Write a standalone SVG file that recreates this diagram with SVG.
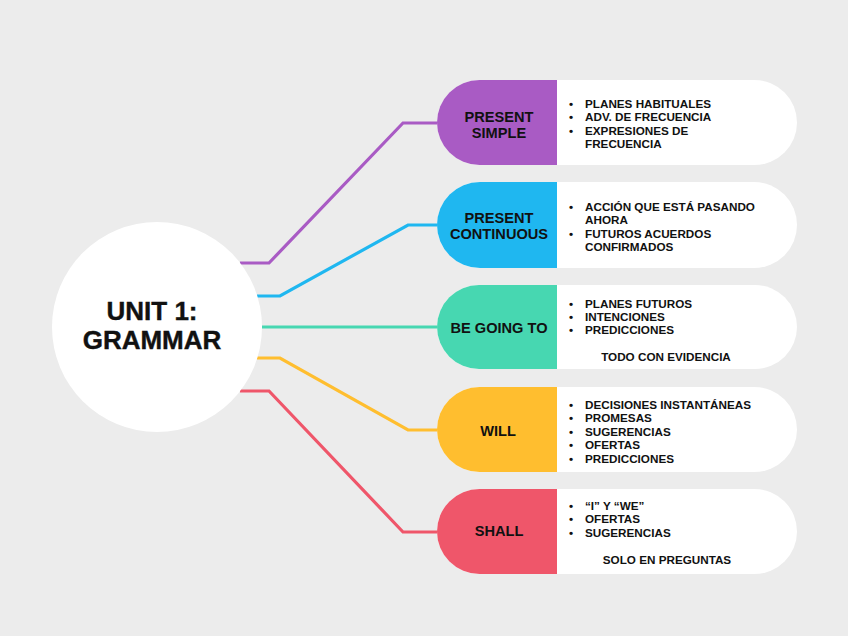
<svg xmlns="http://www.w3.org/2000/svg" width="848" height="636" viewBox="0 0 848 636">
<style>
.conn{fill:none;stroke-width:3.2;stroke-linejoin:miter}
.lbl{font-family:"Liberation Sans",Arial,sans-serif;font-weight:bold;font-size:14.6px;fill:#111;text-anchor:middle}
.txt{font-family:"Liberation Sans",Arial,sans-serif;font-weight:bold;font-size:11.7px;fill:#111}
.ctr{text-anchor:middle}
.pill{fill:#fff}
.title{font-family:"Liberation Sans",Arial,sans-serif;font-weight:bold;font-size:26px;fill:#111;text-anchor:middle;stroke:#111;stroke-width:0.4}
</style>
<rect width="848" height="636" fill="#ececec"/>
<g id="connectors">
<polyline class="conn" stroke="#a95bc4" points="240,263 269,263 403,123 440,123"/>
<polyline class="conn" stroke="#1fb7f0" points="257,296 280,296 408,225 440,225"/>
<polyline class="conn" stroke="#47d7b1" points="262,327 440,327"/>
<polyline class="conn" stroke="#ffbe2f" points="257,358 280,358 408,430 440,430"/>
<polyline class="conn" stroke="#ef566a" points="240,391 269,391 403,532 440,532"/>
</g>
<g id="center">
<circle cx="157" cy="327" r="105" fill="#fff"/>
<text class="title" x="152" y="320">UNIT 1:</text>
<text class="title" x="152" y="349">GRAMMAR</text>
</g>
<g id="present-simple">
<rect class="pill" x="437" y="80" width="360" height="85" rx="42.5"/>
<path d="M557,80 H479.5 A42.5,42.5 0 0 0 479.5,165 H557 Z" fill="#a95bc4"/>
<text class="lbl" x="499" y="122">PRESENT</text>
<text class="lbl" x="499" y="138">SIMPLE</text>
<g class="txt">
<text y="108"><tspan x="569">•</tspan><tspan x="585">PLANES HABITUALES</tspan></text>
<text y="121.4"><tspan x="569">•</tspan><tspan x="585">ADV. DE FRECUENCIA</tspan></text>
<text y="134.8"><tspan x="569">•</tspan><tspan x="585">EXPRESIONES DE</tspan></text>
<text x="585" y="148.2">FRECUENCIA</text>
</g>
</g>
<g id="present-continuous">
<rect class="pill" x="437" y="182" width="360" height="86" rx="43"/>
<path d="M557,182 H480 A43,43 0 0 0 480,268 H557 Z" fill="#1fb7f0"/>
<text class="lbl" x="499" y="223">PRESENT</text>
<text class="lbl" x="499" y="239">CONTINUOUS</text>
<g class="txt">
<text y="211"><tspan x="569">•</tspan><tspan x="585">ACCIÓN QUE ESTÁ PASANDO</tspan></text>
<text x="585" y="224.4">AHORA</text>
<text y="237.8"><tspan x="569">•</tspan><tspan x="585">FUTUROS ACUERDOS</tspan></text>
<text x="585" y="251.2">CONFIRMADOS</text>
</g>
</g>
<g id="be-going-to">
<rect class="pill" x="437" y="285" width="360" height="84" rx="42"/>
<path d="M557,285 H479 A42,42 0 0 0 479,369 H557 Z" fill="#47d7b1"/>
<text class="lbl" x="499" y="333">BE GOING TO</text>
<g class="txt">
<text y="307.5"><tspan x="569">•</tspan><tspan x="585">PLANES FUTUROS</tspan></text>
<text y="320.9"><tspan x="569">•</tspan><tspan x="585">INTENCIONES</tspan></text>
<text y="334.3"><tspan x="569">•</tspan><tspan x="585">PREDICCIONES</tspan></text>
<text class="ctr" x="666" y="361">TODO CON EVIDENCIA</text>
</g>
</g>
<g id="will">
<rect class="pill" x="437" y="387" width="360" height="85" rx="42.5"/>
<path d="M557,387 H479.5 A42.5,42.5 0 0 0 479.5,472 H557 Z" fill="#ffbe2f"/>
<text class="lbl" x="498" y="436">WILL</text>
<g class="txt">
<text y="409"><tspan x="569">•</tspan><tspan x="585">DECISIONES INSTANTÁNEAS</tspan></text>
<text y="422.4"><tspan x="569">•</tspan><tspan x="585">PROMESAS</tspan></text>
<text y="435.8"><tspan x="569">•</tspan><tspan x="585">SUGERENCIAS</tspan></text>
<text y="449.2"><tspan x="569">•</tspan><tspan x="585">OFERTAS</tspan></text>
<text y="462.6"><tspan x="569">•</tspan><tspan x="585">PREDICCIONES</tspan></text>
</g>
</g>
<g id="shall">
<rect class="pill" x="437" y="489" width="360" height="85" rx="42.5"/>
<path d="M557,489 H479.5 A42.5,42.5 0 0 0 479.5,574 H557 Z" fill="#ef566a"/>
<text class="lbl" x="499" y="536">SHALL</text>
<g class="txt">
<text y="510"><tspan x="569">•</tspan><tspan x="585">“I” Y “WE”</tspan></text>
<text y="523.4"><tspan x="569">•</tspan><tspan x="585">OFERTAS</tspan></text>
<text y="536.8"><tspan x="569">•</tspan><tspan x="585">SUGERENCIAS</tspan></text>
<text class="ctr" x="667" y="564">SOLO EN PREGUNTAS</text>
</g>
</g>
</svg>
